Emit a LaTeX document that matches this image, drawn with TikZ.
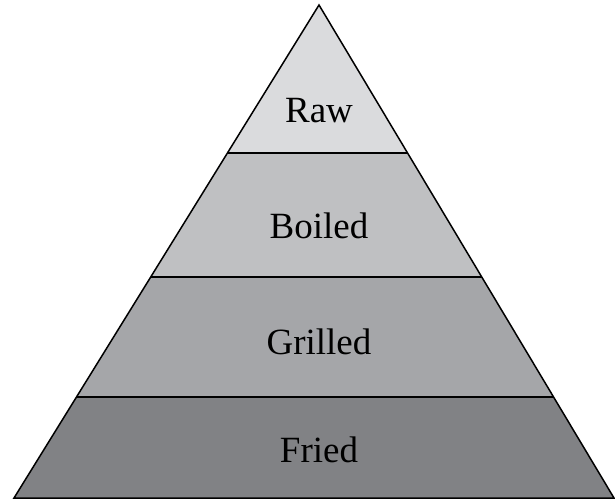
\documentclass[tikz,border=0pt]{standalone}
\usepackage{fontspec}
\setmainfont{Liberation Serif}
\usetikzlibrary{calc}
\definecolor{rawgray}{RGB}{218,219,221}
\definecolor{boilgray}{RGB}{191,192,194}
\definecolor{grillgray}{RGB}{165,166,169}
\definecolor{frygray}{RGB}{129,130,133}

\begin{document}
\begin{tikzpicture}[x=1pt,y=-1pt, every node/.style={font=\fontsize{37}{40}\selectfont, anchor=base}]
    \useasboundingbox (0,0) rectangle (615,500);
    \coordinate (top) at (319,5);
    \coordinate (bl) at (14,498);
    \coordinate (br) at (614,498);
    \coordinate (l1) at ($(bl)!0.2049!(top)$);
    \coordinate (r1) at ($(br)!0.2049!(top)$);
    \coordinate (l2) at ($(bl)!0.4483!(top)$);
    \coordinate (r2) at ($(br)!0.4483!(top)$);
    \coordinate (l3) at ($(bl)!0.6998!(top)$);
    \coordinate (r3) at ($(br)!0.6998!(top)$);
    \fill[frygray] (bl) -- (br) -- (r1) -- (l1) -- cycle;
    \fill[grillgray] (l1) -- (r1) -- (r2) -- (l2) -- cycle;
    \fill[boilgray] (l2) -- (r2) -- (r3) -- (l3) -- cycle;
    \fill[rawgray] (l3) -- (r3) -- (top) -- cycle;
    \draw[line width=1.5pt] (bl) -- (top) -- (br) -- cycle;
    \draw[line width=1.5pt] (l1) -- (r1);
    \draw[line width=1.5pt] (l2) -- (r2);
    \draw[line width=1.5pt] (l3) -- (r3);
    \node (raw) at (319,122) {Raw};
    \node (boiled) at (319,238) {Boiled};
    \node (grilled) at (319,354) {Grilled};
    \node (fried) at (319,462) {Fried};
\end{tikzpicture}
\end{document}
